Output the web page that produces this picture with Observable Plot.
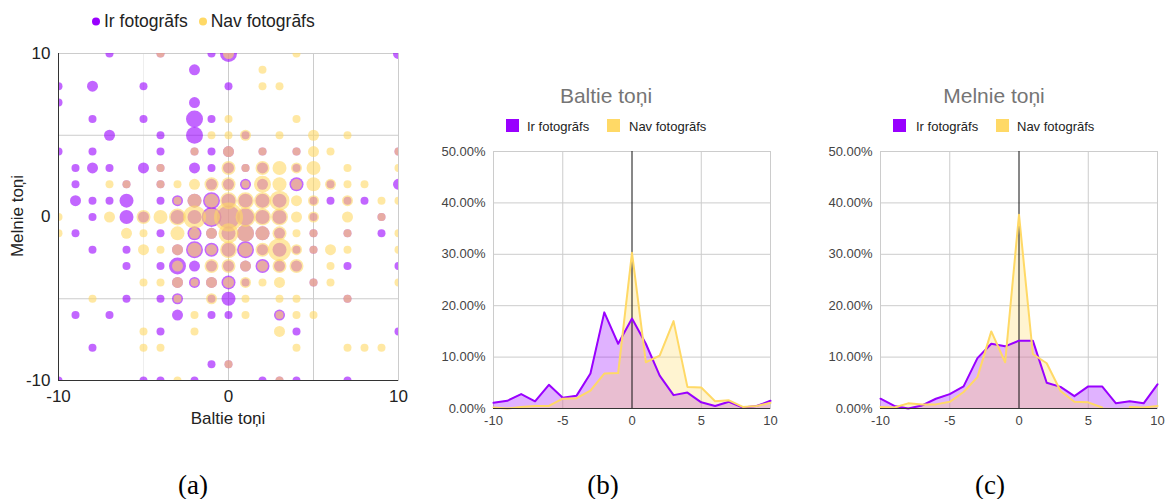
<!DOCTYPE html>
<html><head><meta charset="utf-8">
<script src="https://cdn.jsdelivr.net/npm/d3@7"></script>
<script src="https://cdn.jsdelivr.net/npm/@observablehq/plot@0.6"></script>
<style>
body{margin:0;background:#fff;width:1173px;height:499px;position:relative;overflow:hidden;font-family:'Liberation Sans',Arial,sans-serif;}
.abs{position:absolute;white-space:nowrap;}
.c{transform:translate(-50%,-50%);}
.vc{transform:translateY(-50%);}
.sq{position:absolute;width:13px;height:13px;}
.dot{display:inline-block;width:8px;height:8px;border-radius:50%;margin-right:4px;}
.title{font-size:21px;color:#757575;}
.leg{font-size:13px;color:#222;}
.cap{font-family:'Liberation Serif','Times New Roman',serif;font-size:27px;color:#000;}
</style></head><body>

<div class="abs" style="left:92px;top:21px;transform:translateY(-50%);font-size:17.5px;color:#222;display:flex;align-items:center;">
  <span class="dot" style="background:#9900ff"></span><span>Ir fotogrāfs</span>
  <span class="dot" style="background:#ffd966;margin-left:11px"></span><span>Nav fotogrāfs</span>
</div>
<div id="chartA" class="abs" style="left:0;top:40px"></div>
<div class="abs c" style="left:228px;top:419px;font-size:17px;color:#222">Baltie toņi</div>
<div class="abs" style="left:18px;top:216px;transform:translate(-50%,-50%) rotate(-90deg);font-size:17px;color:#222">Melnie toņi</div>

<div class="abs c title" style="left:606px;top:96px">Baltie toņi</div>
<div class="sq" style="left:506px;top:119px;background:#9900ff"></div>
<div class="abs vc leg" style="left:527px;top:126px">Ir fotogrāfs</div>
<div class="sq" style="left:607px;top:119px;background:#ffd966"></div>
<div class="abs vc leg" style="left:629px;top:126px">Nav fotogrāfs</div>
<div id="chartB" class="abs" style="left:430px;top:140px"></div>

<div class="abs c title" style="left:994px;top:96px">Melnie toņi</div>
<div class="sq" style="left:893px;top:119px;background:#9900ff"></div>
<div class="abs vc leg" style="left:916px;top:126px">Ir fotogrāfs</div>
<div class="sq" style="left:996px;top:119px;background:#ffd966"></div>
<div class="abs vc leg" style="left:1017px;top:126px">Nav fotogrāfs</div>
<div id="chartC" class="abs" style="left:817px;top:140px"></div>

<div class="abs c cap" style="left:193px;top:485px">(a)</div>
<div class="abs c cap" style="left:603px;top:485px">(b)</div>
<div class="abs c cap" style="left:990px;top:485px">(c)</div>

<script>
// ---------- DATA ----------
const seriesNames = ["Ir fotogrāfs", "Nav fotogrāfs"];
const colors = ["#9900ff", "#ffd966"];
const axisTicksA = [-10, 0, 10];

// Bubble chart: [Baltie toņi, Melnie toņi, size]
const irBubbles = [
  [-7,10,1],[-4,10,1],[-1,10,1],[0,10,4],[10,10,2],
  [-2,9,2],
  [-10,8,1],[-8,8,2],[-5,8,1],[0,8,1],
  [-10,7,1],[-2,7,2],
  [-8,6,1],[-5,6,1],[-2,6,4],[-1,6,1],
  [-7,5,2],[-4,5,1],[-2,5,4],[1,5,1],
  [-10,4,1],[-8,4,1],[-4,4,1],[-2,4,1],[-1,4,1],[0,4,2],[2,4,1],[4,4,1],[10,4,1],
  [-9,3,1],[-8,3,2],[-7,3,1],[-5,3,2],[-4,3,1],[-2,3,2],[-1,3,1],[0,3,2],[1,3,1],[2,3,2],[4,3,1],
  [-9,2,1],[-6,2,1],[-4,2,1],[-1,2,2],[0,2,2],[1,2,2],[2,2,2],[4,2,3],[6,2,1],[10,2,2],
  [-9,1,2],[-8,1,1],[-7,1,1],[-6,1,3],[-4,1,1],[-3,1,2],[-2,1,3],[-1,1,4],[0,1,3],[1,1,3],[2,1,3],[3,1,3],[5,1,1],[6,1,1],[7,1,1],[8,1,1],
  [-8,0,1],[-6,0,3],[-5,0,2],[-3,0,3],[-2,0,3],[-1,0,5],[0,0,6],[1,0,4],[2,0,3],[3,0,3],[5,0,1],[9,0,1],
  [-9,-1,1],[-4,-1,1],[-2,-1,3],[-1,-1,2],[0,-1,3],[1,-1,4],[2,-1,3],[3,-1,2],[5,-1,1],[7,-1,1],[9,-1,1],
  [-8,-2,1],[-6,-2,1],[-3,-2,2],[-2,-2,4],[-1,-2,3],[0,-2,3],[1,-2,4],[2,-2,2],[3,-2,3],[4,-2,1],[5,-2,1],
  [-6,-3,1],[-4,-3,1],[-3,-3,4],[-2,-3,2],[-1,-3,2],[0,-3,2],[1,-3,2],[2,-3,3],[3,-3,2],[4,-3,2],[7,-3,1],[10,-3,1],
  [-3,-4,2],[-2,-4,2],[-1,-4,2],[0,-4,3],[1,-4,1],[5,-4,1],
  [-6,-5,1],[-4,-5,1],[-3,-5,2],[-1,-5,1],[0,-5,3],[7,-5,1],
  [-9,-6,1],[-7,-6,1],[-3,-6,2],[-1,-6,1],[0,-6,1],[3,-6,2],
  [-4,-7,1],[4,-7,1],[10,-7,1],
  [-8,-8,1],
  [-1,-9,1],[0,-9,1],
  [-10,-10,1],[-5,-10,1],[-4,-10,1],[-2,-10,1],[2,-10,1],[3,-10,1],[4,-10,1],[7,-10,1]
];
const navBubbles = [
  [-4,10,1],[0,10,2],[4,10,1],
  [2,9,1],
  [2,8,1],[3,8,1],
  [0,6,1],[4,6,1],
  [-1,5,1],[0,5,1],[1,5,2],[3,5,1],[5,5,2],[7,5,1],
  [-2,4,1],[0,4,2],[2,4,1],[4,4,1],[5,4,2],[6,4,1],[10,4,1],
  [-4,3,1],[0,3,3],[1,3,1],[2,3,3],[3,3,3],[4,3,2],[5,3,3],[7,3,1],[10,3,1],
  [-7,2,1],[-6,2,1],[-4,2,1],[-3,2,1],[-2,2,2],[-1,2,3],[0,2,3],[1,2,1],[2,2,4],[3,2,3],[4,2,2],[5,2,3],[6,2,2],[7,2,1],[8,2,1],
  [-3,1,1],[-2,1,3],[-1,1,3],[0,1,4],[1,1,4],[2,1,4],[3,1,5],[4,1,2],[5,1,2],[7,1,2],[9,1,1],[10,1,1],
  [-10,0,1],[-7,0,2],[-5,0,3],[-4,0,3],[-3,0,4],[-2,0,6],[-1,0,4],[0,0,8],[1,0,5],[2,0,4],[3,0,4],[4,0,2],[5,0,2],[7,0,2],[9,0,1],
  [-10,-1,1],[-6,-1,2],[-5,-1,1],[-3,-1,3],[-2,-1,2],[-1,-1,2],[0,-1,5],[1,-1,4],[2,-1,3],[3,-1,3],[4,-1,1],[5,-1,1],[7,-1,1],[10,-1,1],
  [-5,-2,2],[-4,-2,1],[-3,-2,2],[-2,-2,3],[-1,-2,2],[0,-2,4],[1,-2,3],[2,-2,3],[3,-2,6],[4,-2,2],[5,-2,1],[6,-2,2],[7,-2,1],[10,-2,1],
  [-3,-3,2],[-1,-3,3],[0,-3,3],[1,-3,2],[2,-3,2],[3,-3,3],[4,-3,3],[6,-3,1],
  [-5,-4,1],[-4,-4,1],[-3,-4,2],[-2,-4,1],[-1,-4,2],[0,-4,2],[1,-4,2],[2,-4,1],[3,-4,2],[5,-4,1],[6,-4,1],[10,-4,1],
  [-8,-5,1],[-3,-5,1],[-1,-5,2],[1,-5,1],[3,-5,1],[4,-5,1],[7,-5,1],
  [-2,-6,1],[1,-6,1],[3,-6,1],[4,-6,1],[5,-6,1],
  [-5,-7,1],[-2,-7,1],[3,-7,2],
  [-5,-8,1],[-4,-8,1],[4,-8,1],[7,-8,1],[8,-8,1],[9,-8,1],
  [0,-9,1],
  [-3,-10,1],[3,-10,1]
];

// Histograms (percent), x = -10..10
const bins = [-10,-9,-8,-7,-6,-5,-4,-3,-2,-1,0,1,2,3,4,5,6,7,8,9,10];
const baltieIr  = [1.1,1.5,2.8,1.4,4.6,2.1,2.5,6.8,18.7,12.6,17.5,12.6,6.4,2.6,3.1,1.2,0.5,1.3,0.2,0.5,1.5];
const baltieNav = [0.2,0.0,0.3,0.5,0.5,1.9,2.0,3.5,6.8,6.9,30.3,9.0,10.3,17.0,4.2,4.1,1.4,1.6,0.3,0.5,1.1];
const melnieIr  = [1.9,0.5,0.0,0.6,1.9,2.8,4.3,9.8,12.6,12.1,13.2,13.2,5.0,4.2,2.4,4.3,4.3,1.0,1.4,1.0,4.7];
const melnieNav = [0.3,0.2,1.0,0.8,0.8,1.3,3.2,6.1,15.0,9.0,37.7,10.6,8.8,3.4,1.3,1.2,0.2,null,0.3,0.2,0.5];
const histXTicks = [-10,-5,0,5,10];
const histYTicks = [0,10,20,30,40,50];

// ---------- CHART A ----------
const FONT = "'Liberation Sans', Arial, sans-serif";
const plain = d => String(d);
const chartA = Plot.plot({
  width: 420, height: 372,
  marginLeft: 58, marginRight: 22, marginTop: 13, marginBottom: 32,
  style: {fontFamily: FONT, fontSize: "17px", color: "#222", background: "transparent"},
  x: {domain: [-10, 10]},
  y: {domain: [-10, 10]},
  r: {type: "linear", domain: [1, 8], range: [4, 14.5]},
  marks: [
    Plot.gridX([-5], {stroke: "#eee", strokeOpacity: 1}),
    Plot.gridX([0, 5], {stroke: "#ccc", strokeOpacity: 1}),
    Plot.gridY([-5, 5], {stroke: "#ccc", strokeOpacity: 1}),
    Plot.frame({stroke: "#ccc"}),
    Plot.dot(irBubbles, {x: d => d[0], y: d => d[1], r: d => d[2], fill: colors[0], fillOpacity: 0.6, clip: true}),
    Plot.dot(navBubbles, {x: d => d[0], y: d => d[1], r: d => d[2], fill: colors[1], fillOpacity: 0.6, clip: true}),
    Plot.ruleX([-10], {stroke: "#333"}),
    Plot.ruleY([-10], {stroke: "#333"}),
    Plot.axisX({ticks: axisTicksA, tickSize: 0, tickPadding: 9, label: null, tickFormat: plain}),
    Plot.axisY({ticks: axisTicksA, tickSize: 0, tickPadding: 8, label: null, tickFormat: plain})
  ]
});
document.getElementById("chartA").append(chartA);

// ---------- CHARTS B, C ----------
function hist(irVals, navVals) {
  const ir = bins.map((b, i) => ({x: b, y: irVals[i]}));
  const nav = bins.map((b, i) => ({x: b, y: navVals[i]}));
  return Plot.plot({
    width: 350, height: 300,
    marginLeft: 63, marginRight: 10, marginTop: 11, marginBottom: 32,
    style: {fontFamily: FONT, fontSize: "13px", color: "#444", background: "transparent"},
    x: {domain: [-10, 10]},
    y: {domain: [0, 50]},
    marks: [
      Plot.gridX([-5, 5], {stroke: "#ccc", strokeOpacity: 1}),
      Plot.gridY([10, 20, 30, 40, 50], {stroke: "#ccc", strokeOpacity: 1}),
      Plot.frame({stroke: "#ccc"}),
      Plot.areaY(ir, {x: "x", y: "y", fill: colors[0], fillOpacity: 0.3}),
      Plot.areaY(nav, {x: "x", y: "y", fill: colors[1], fillOpacity: 0.3}),
      Plot.ruleX([0], {stroke: "#111"}),
      Plot.lineY(ir, {x: "x", y: "y", stroke: colors[0], strokeWidth: 2}),
      Plot.lineY(nav, {x: "x", y: "y", stroke: colors[1], strokeWidth: 2}),
      Plot.ruleY([0], {stroke: "#333"}),
      Plot.axisX({ticks: histXTicks, tickSize: 0, tickPadding: 7, label: null, tickFormat: plain}),
      Plot.axisY({ticks: histYTicks, tickSize: 0, tickPadding: 8, label: null, tickFormat: d => d.toFixed(2) + "%"})
    ]
  });
}
document.getElementById("chartB").append(hist(baltieIr, baltieNav));
document.getElementById("chartC").append(hist(melnieIr, melnieNav));
</script>
</body></html>
